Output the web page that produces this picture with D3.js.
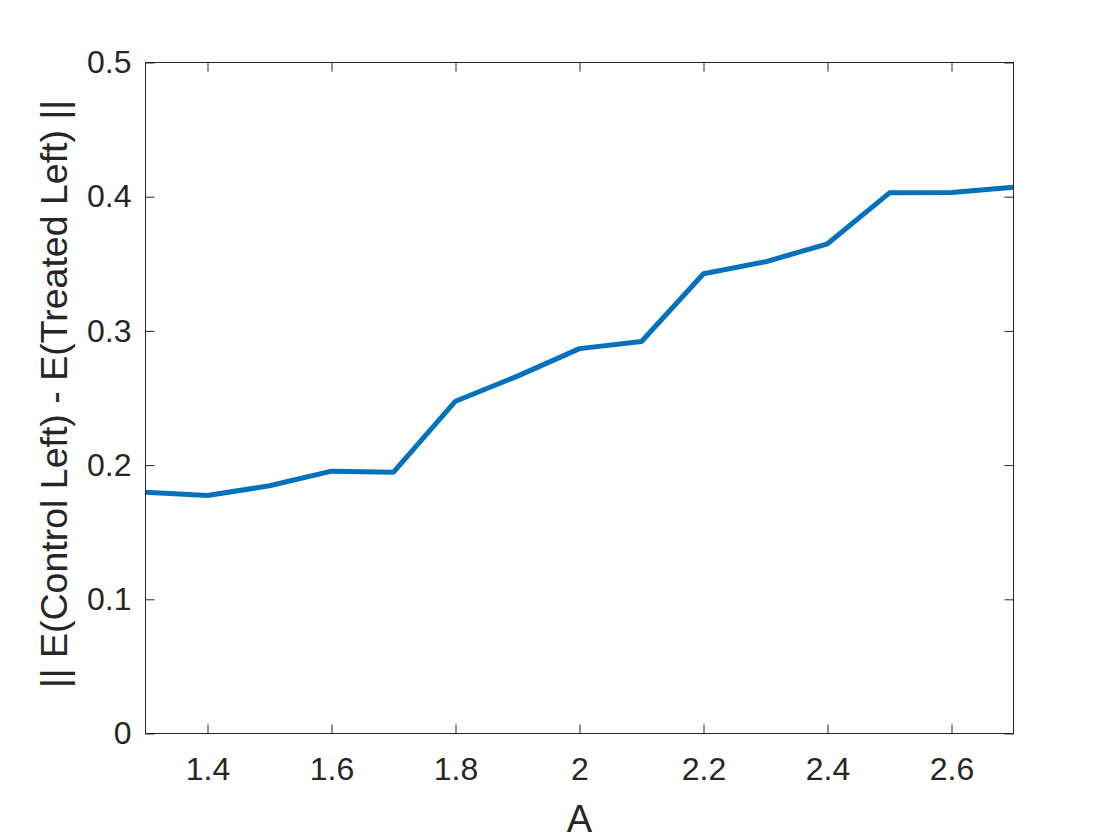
<!DOCTYPE html>
<html>
<head>
<meta charset="utf-8">
<script src="https://d3js.org/d3.v7.min.js"></script>
<style>
  html, body { margin: 0; padding: 0; background: #fff; }
  svg { display: block; }
</style>
</head>
<body>
<script>
const xValues = [1.3, 1.4, 1.5, 1.6, 1.7, 1.8, 1.9, 2.0, 2.1, 2.2, 2.3, 2.4, 2.5, 2.6, 2.7];
const yValues = [0.1798, 0.1773, 0.1846, 0.1955, 0.1947, 0.2476, 0.2663, 0.2868, 0.2921, 0.3426, 0.3515, 0.3649, 0.4029, 0.4031, 0.4071];
const xTicks = [1.4, 1.6, 1.8, 2.0, 2.2, 2.4, 2.6];
const xTickLabels = ["1.4", "1.6", "1.8", "2", "2.2", "2.4", "2.6"];
const yTicks = [0, 0.1, 0.2, 0.3, 0.4, 0.5];
const yTickLabels = ["0", "0.1", "0.2", "0.3", "0.4", "0.5"];
const xLabel = "A";
const yLabel = "|| E(Control Left) - E(Treated Left) ||";

const W = 1120, H = 840;
const mLeft = 145.5, mRight = 1013.5, mTop = 62.5, mBottom = 733.5;
const axisColor = "#262626";
const font = "'Liberation Sans', Arial, Helvetica, sans-serif";

const svg = d3.select("body").append("svg").attr("width", W).attr("height", H);

const x = d3.scaleLinear().domain([1.3, 2.7]).range([mLeft, mRight]);
const y = d3.scaleLinear().domain([0, 0.5]).range([mBottom, mTop]);

// data line
const line = d3.line().x((d, i) => x(xValues[i])).y(d => y(d));
svg.append("path")
  .datum(yValues)
  .attr("d", line)
  .attr("fill", "none")
  .attr("stroke", "#0072BD")
  .attr("stroke-width", 5)
  .attr("stroke-linejoin", "round")
  .attr("stroke-linecap", "butt");

const tickLen = 9;
const tickFmtX = d => xTickLabels[xTicks.indexOf(d)];
const tickFmtY = d => yTickLabels[yTicks.indexOf(d)];

function styleAxis(g) {
  g.select(".domain").remove();
  g.selectAll(".tick line").attr("stroke", axisColor).attr("stroke-width", 1);
  g.selectAll(".tick text").attr("fill", axisColor).style("font-family", font).style("font-size", "32px");
}

// bottom axis
svg.append("g").attr("transform", `translate(0,${mBottom})`)
  .call(d3.axisBottom(x).tickValues(xTicks).tickFormat(tickFmtX).tickSizeInner(-tickLen).tickSizeOuter(0).tickPadding(24))
  .call(styleAxis);
// top axis (ticks only)
svg.append("g").attr("transform", `translate(0,${mTop})`)
  .call(d3.axisTop(x).tickValues(xTicks).tickFormat("").tickSizeInner(-tickLen).tickSizeOuter(0))
  .call(styleAxis);
// left axis
svg.append("g").attr("transform", `translate(${mLeft},0)`)
  .call(d3.axisLeft(y).tickValues(yTicks).tickFormat(tickFmtY).tickSizeInner(-tickLen).tickSizeOuter(0).tickPadding(14))
  .call(styleAxis);
// right axis (ticks only)
svg.append("g").attr("transform", `translate(${mRight},0)`)
  .call(d3.axisRight(y).tickValues(yTicks).tickFormat("").tickSizeInner(-tickLen).tickSizeOuter(0))
  .call(styleAxis);

// box
svg.append("rect")
  .attr("x", mLeft).attr("y", mTop)
  .attr("width", mRight - mLeft).attr("height", mBottom - mTop)
  .attr("fill", "none").attr("stroke", axisColor).attr("stroke-width", 1);

// x label
svg.append("text")
  .attr("x", (mLeft + mRight) / 2).attr("y", 832)
  .attr("text-anchor", "middle")
  .attr("fill", axisColor)
  .style("font-family", font).style("font-size", "38px")
  .text(xLabel);

// y label
svg.append("text")
  .attr("transform", `translate(67,${(mTop + mBottom) / 2 - 4}) rotate(-90)`)
  .attr("text-anchor", "middle")
  .attr("fill", axisColor)
  .style("font-family", font).style("font-size", "37.5px")
  .text(yLabel);
</script>
</body>
</html>
